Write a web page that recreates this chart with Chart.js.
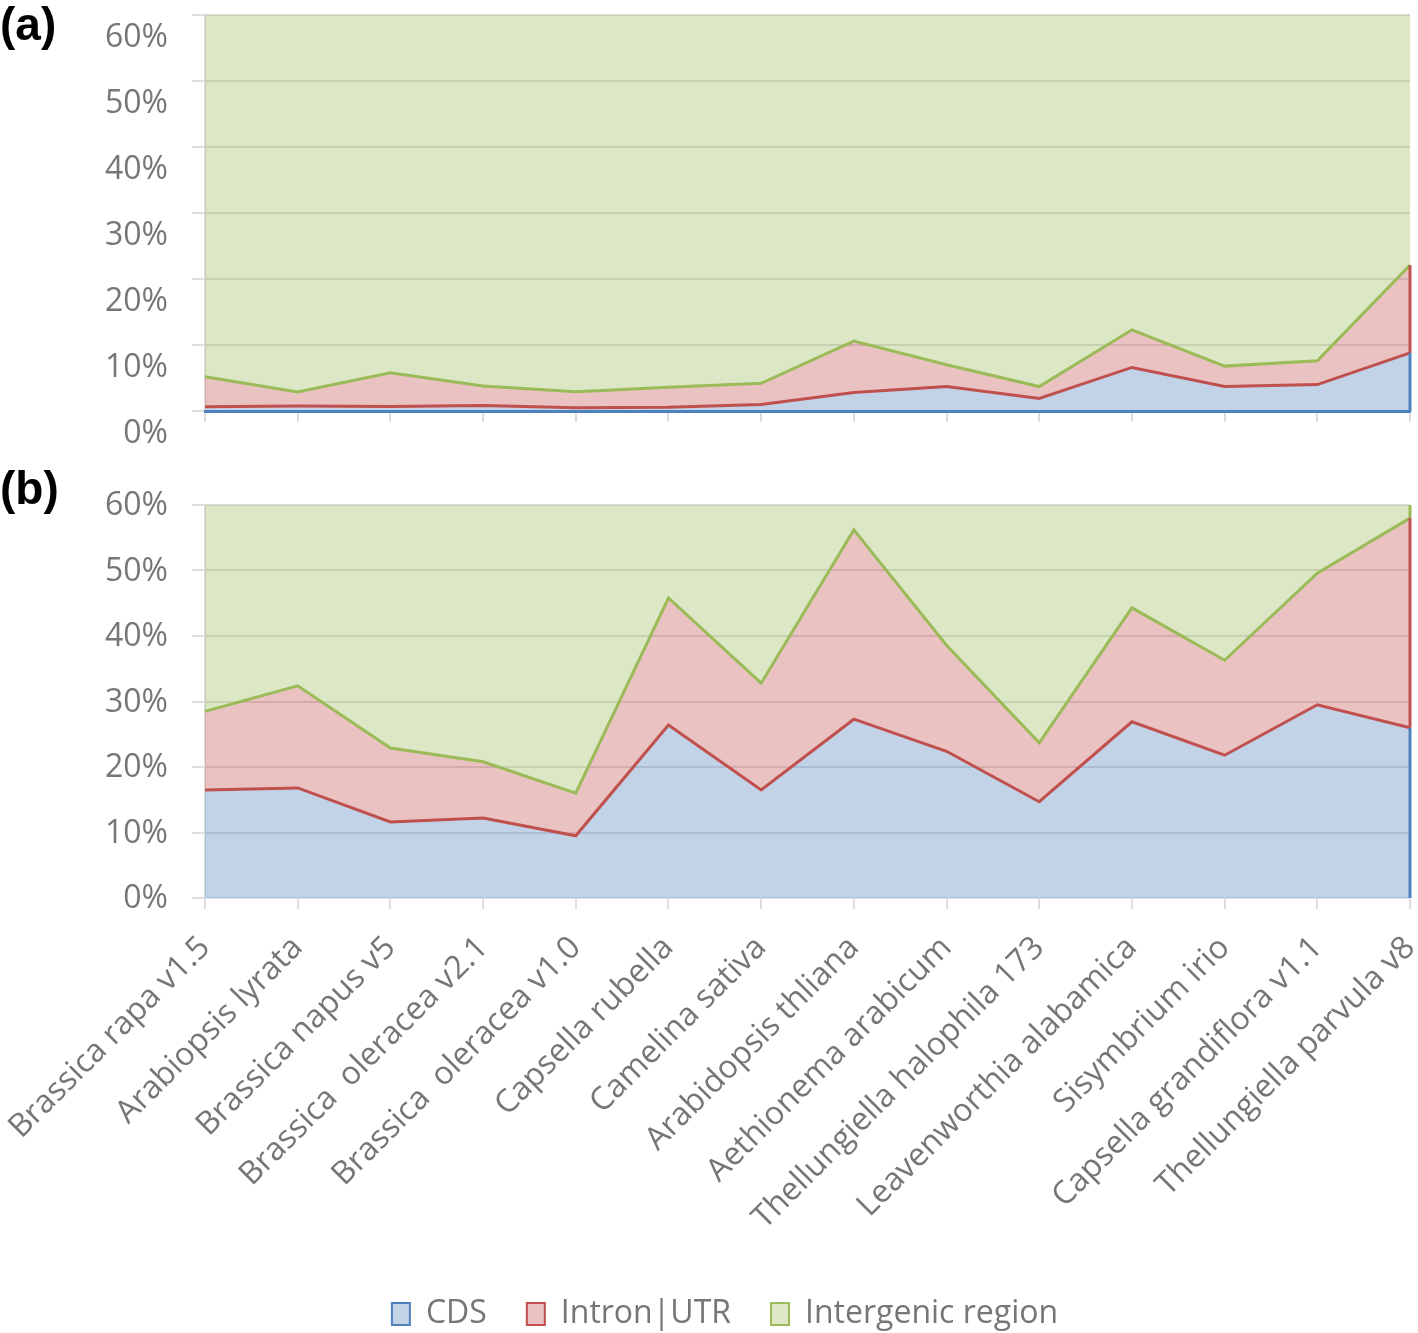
<!DOCTYPE html>
<html>
<head>
<meta charset="utf-8">
<script src="https://cdn.jsdelivr.net/npm/chart.js@4/dist/chart.umd.min.js"></script>
<style>
  body { margin: 0; background: #fff; }
  .wrap { position: relative; width: 1418px; height: 1333px; overflow: hidden; }
  .panel { position: absolute; left: 0; width: 1418px; }
  .tag { position: absolute; left: 0; font: bold 46px "Liberation Sans", Arial, sans-serif; line-height: 1; color: #000; z-index: 2; }
</style>
</head>
<body>
<div class="wrap">
  <div class="tag" style="top:1px">(a)</div>
  <div class="tag" style="top:465px">(b)</div>
  <div class="panel" style="top:0; height:455px"><canvas id="chartA"></canvas></div>
  <div class="panel" style="top:460px; height:873px"><canvas id="chartB"></canvas></div>
</div>
<script>
const species = [
  "Brassica rapa v1.5",
  "Arabiopsis lyrata",
  "Brassica napus v5",
  "Brassica  oleracea v2.1",
  "Brassica  oleracea v1.0",
  "Capsella rubella",
  "Camelina sativa",
  "Arabidopsis thliana",
  "Aethionema arabicum",
  "Thellungiella halophila 173",
  "Leavenworthia alabamica",
  "Sisymbrium irio",
  "Capsella grandiflora v1.1",
  "Thellungiella parvula v8",
];
const seriesNames = ["CDS", "Intron|UTR", "Intergenic region"];
const yTicks = [0, 10, 20, 30, 40, 50, 60];

// (a) percentages
const cdsA = [0.65, 0.75, 0.7, 0.85, 0.5, 0.55, 1.0, 2.8, 3.7, 1.9, 6.6, 3.7, 4.0, 8.8];
const intronA = [4.55, 2.15, 5.1, 2.95, 2.4, 3.05, 3.2, 7.8, 3.3, 1.8, 5.7, 3.1, 3.6, 13.3];
// (b) percentages
const cdsB = [16.5, 16.8, 11.6, 12.2, 9.5, 26.4, 16.5, 27.3, 22.4, 14.7, 26.9, 21.8, 29.5, 26.0];
const intronB = [12.0, 15.6, 11.3, 8.6, 6.5, 19.4, 16.3, 28.9, 16.2, 9.0, 17.4, 14.5, 20.1, 32.0];

const fillColors = ["rgba(79,129,189,0.35)", "rgba(192,80,77,0.35)", "rgba(155,187,89,0.35)"];
const lineColors = ["#4f81bd", "#c0504d", "#9bbb59"];
const gridColor = "#dedede";
const textColor = "#767676";
const fontFamily = '"Open Sans", "Noto Sans", sans-serif';

const rest = (a, b) => a.map((v, i) => 100 - v - b[i]);

// vertical edge at the last category, like the spreadsheet area outline
const makeEdgePlugin = (count) => ({
  id: "edge",
  afterDatasetsDraw(chart) {
    const { ctx, chartArea, scales } = chart;
    const last = species.length - 1;
    const x = scales.x.getPixelForValue(last);
    let base = 0;
    ctx.save();
    ctx.beginPath();
    ctx.rect(chartArea.left, chartArea.top, chartArea.right - chartArea.left + 3, chartArea.bottom - chartArea.top);
    ctx.clip();
    chart.data.datasets.slice(0, count).forEach((ds, i) => {
      const top = base + ds.data[last];
      ctx.strokeStyle = lineColors[i];
      ctx.lineWidth = 3;
      ctx.beginPath();
      ctx.moveTo(x, scales.y.getPixelForValue(base));
      ctx.lineTo(x, scales.y.getPixelForValue(top));
      ctx.stroke();
      base = top;
    });
    ctx.restore();
  },
});

const makeDatasets = (cds, intron) => [
  {
    label: seriesNames[0],
    data: cds,
    backgroundColor: fillColors[0],
    borderColor: lineColors[1],
    borderWidth: 3,
    fill: "origin",
  },
  {
    label: seriesNames[1],
    data: intron,
    backgroundColor: fillColors[1],
    borderColor: lineColors[2],
    borderWidth: 3,
    fill: "-1",
  },
  {
    label: seriesNames[2],
    data: rest(cds, intron),
    backgroundColor: fillColors[2],
    borderColor: "rgba(0,0,0,0)",
    borderWidth: 0,
    fill: "-1",
  },
];

const makeOptions = (isTop) => ({
  responsive: true,
  maintainAspectRatio: false,
  animation: false,
  layout: { padding: { left: 40, right: 8, top: isTop ? 15 : 45, bottom: 0 } },
  elements: { point: { radius: 0 }, line: { tension: 0 } },
  plugins: {
    tooltip: { enabled: false },
    legend: isTop
      ? { display: false }
      : {
          display: true,
          position: "bottom",
          maxHeight: 75,
          labels: {
            padding: 40,
            boxWidth: 18,
            boxHeight: 22,
            color: textColor,
            font: { family: fontFamily, size: 32 },
            generateLabels: () =>
              seriesNames.map((name, i) => ({
                text: name,
                fillStyle: fillColors[i],
                strokeStyle: lineColors[i],
                lineWidth: 2,
                fontColor: textColor,
                datasetIndex: i,
              })),
          },
        },
  },
  scales: {
    x: {
      offset: false,
      grid: { display: true, drawOnChartArea: false, drawTicks: true, tickLength: 11, color: gridColor, lineWidth: 2 },
      border: isTop
        ? { display: true, color: lineColors[0], width: 3, z: 1 }
        : { display: true, color: "#dde4ef", width: 2 },
      ticks: {
        display: !isTop,
        autoSkip: false,
        minRotation: 45,
        maxRotation: 45,
        padding: 20,
        color: textColor,
        font: { family: fontFamily, size: 32 },
      },
      afterFit: (scale) => {
        scale.height = isTop ? 44 : 360;
        scale.paddingLeft = 0;
        scale.paddingRight = 0;
      },
    },
    y: {
      stacked: true,
      min: 0,
      max: 60,
      afterBuildTicks: (scale) => {
        scale.ticks = yTicks.map((v) => ({ value: v }));
      },
      grid: { color: gridColor, lineWidth: 2, tickLength: 13 },
      border: { display: true, color: gridColor, width: 2 },
      ticks: {
        padding: 24,
        labelOffset: isTop ? 23 : 1,
        color: textColor,
        font: { family: fontFamily, size: 32 },
        callback: (v) => v + "%",
      },
      afterFit: (scale) => {
        scale.width = 165;
        scale.paddingTop = 0;
        scale.paddingBottom = 0;
      },
    },
  },
});

new Chart(document.getElementById("chartA"), {
  type: "line",
  data: { labels: species, datasets: makeDatasets(cdsA, intronA) },
  options: makeOptions(true),
  plugins: [makeEdgePlugin(2)],
});

new Chart(document.getElementById("chartB"), {
  type: "line",
  data: { labels: species, datasets: makeDatasets(cdsB, intronB) },
  options: makeOptions(false),
  plugins: [makeEdgePlugin(3)],
});
</script>
</body>
</html>
